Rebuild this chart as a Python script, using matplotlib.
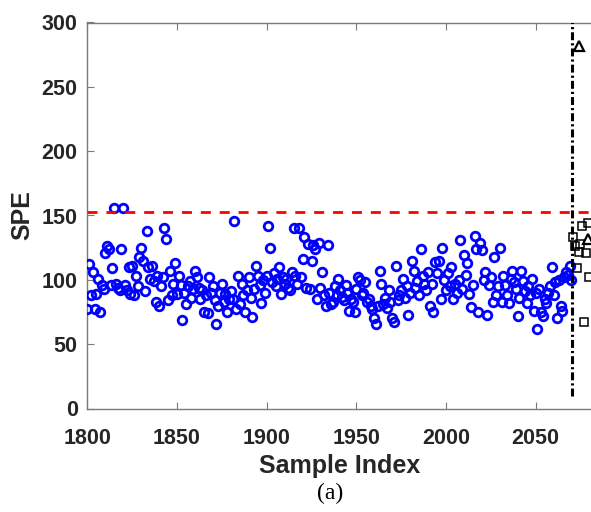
import matplotlib
matplotlib.use("Agg")
import matplotlib.pyplot as plt
import numpy as np

# ---------------- data ----------------
normal_start = 1800
normal_spe = [
    77, 112, 88, 106, 77, 89, 101, 75, 96, 93,
    121, 126, 124, 96, 109, 156, 97, 94, 92, 124,
    156, 96, 92, 110, 89, 111, 88, 103, 95, 118,
    125, 115, 91, 138, 110, 101, 111, 99, 83, 103,
    80, 95, 102, 140, 132, 84, 107, 88, 97, 113,
    89, 103, 96, 69, 90, 81, 95, 99, 86, 93,
    107, 102, 94, 85, 92, 75, 88, 74, 102, 90,
    95, 84, 66, 80, 90, 97, 83, 89, 75, 85,
    91, 85, 146, 77, 103, 81, 97, 88, 75, 92,
    102, 86, 71, 93, 111, 103, 96, 82, 100, 90,
    103, 142, 125, 98, 105, 95, 101, 110, 89, 102,
    97, 101, 94, 92, 106, 140, 103, 97, 140, 102,
    116, 133, 94, 128, 93, 115, 127, 124, 85, 129,
    94, 106, 88, 80, 127, 90, 81, 83, 95, 88,
    101, 92, 87, 84, 96, 90, 76, 85, 83, 75,
    93, 102, 100, 88, 90, 98, 83, 85, 80, 77,
    70, 66, 80, 107, 97, 81, 86, 78, 92, 83,
    70, 67, 111, 84, 88, 92, 101, 86, 95, 73,
    90, 115, 107, 94, 99, 88, 124, 103, 97, 92,
    106, 80, 97, 75, 114, 105, 115, 85, 125, 100,
    92, 105, 95, 110, 85, 97, 90, 100, 131, 93,
    119, 104, 113, 89, 79, 96, 134, 124, 75, 129,
    123, 100, 106, 73, 96, 102, 83, 118, 88, 95,
    125, 83, 103, 96, 88, 82, 101, 107, 98, 93,
    72, 86, 107, 99, 91, 82, 95, 88, 101, 76,
    90, 62, 93, 75, 72, 85, 82, 90, 95, 110,
    88, 98, 70, 100, 80, 76, 102, 106, 104, 111,
    100,
]
normal_idx = list(range(normal_start, normal_start + len(normal_spe)))

fault_sq_idx = [2071, 2072, 2073, 2074, 2075, 2076, 2077, 2078, 2079, 2080]
fault_sq_spe = [133, 126, 109, 122, 128, 142, 67, 121, 144, 102]
fault_tri_idx = [2074, 2079]
fault_tri_spe = [282, 132]

threshold = 153
fault_onset = 2070.5
onset_span = [10, 300]

x_ticks = [1800, 1850, 1900, 1950, 2000, 2050]
y_ticks = [0, 50, 100, 150, 200, 250, 300]

# ---------------- figure ----------------
fig = plt.figure(figsize=(5.91, 5.12), dpi=100)
ax = fig.add_axes([87.4 / 591, (512 - 408.5) / 512, 1 - 87.4 / 591, (408.5 - 22.5) / 512])

ax.plot(normal_idx, normal_spe, linestyle="none", marker="o", ms=6.2,
        mfc="none", mec="#0000ff", mew=2.0, zorder=3)
ax.plot(fault_sq_idx, fault_sq_spe, linestyle="none", marker="s", ms=5.2,
        mfc="none", mec="black", mew=1.1, zorder=3)
ax.plot(fault_tri_idx, fault_tri_spe, linestyle="none", marker="^", ms=7,
        mfc="none", mec="black", mew=1.6, zorder=3)

ax.axhline(threshold, color="#ff0000", lw=2.0, dashes=(3.6, 3.2), zorder=4)
ax.plot([fault_onset, fault_onset], onset_span, color="black", lw=2.2,
        dashes=(2.6, 1.0, 0.7, 1.0), zorder=4)

ax.set_xlim(1800, 2080.9)
ax.set_ylim(0, 300)
ax.set_xticks(x_ticks)
ax.set_yticks(y_ticks)

axis_col = "#262626"
for side in ["left", "bottom", "top"]:
    ax.spines[side].set_color("#7a7a7a")
    ax.spines[side].set_linewidth(1.0)
ax.spines["right"].set_visible(False)

ax.tick_params(axis="both", direction="in", length=5, width=0.8,
               color="#7a7a7a", labelcolor=axis_col, labelsize=15.5)
ax.tick_params(axis="y", pad=7)
ax.tick_params(axis="x", top=True, pad=14)
for lab in ax.get_xticklabels() + ax.get_yticklabels():
    lab.set_fontfamily("Liberation Sans")
    lab.set_fontweight("bold")

ax.set_xlabel("Sample Index", fontsize=18, fontweight="bold",
              fontfamily="Liberation Sans", color=axis_col, labelpad=3.5)
ax.set_ylabel("SPE", fontsize=18, fontweight="bold",
              fontfamily="Liberation Sans", color=axis_col, labelpad=5)

fig.text(330 / 591, 1 - 493 / 512, "(a)", ha="center", va="center",
         fontsize=17, fontfamily="Liberation Serif", color="black")

fig.savefig("out.png", dpi=100, facecolor="white")
